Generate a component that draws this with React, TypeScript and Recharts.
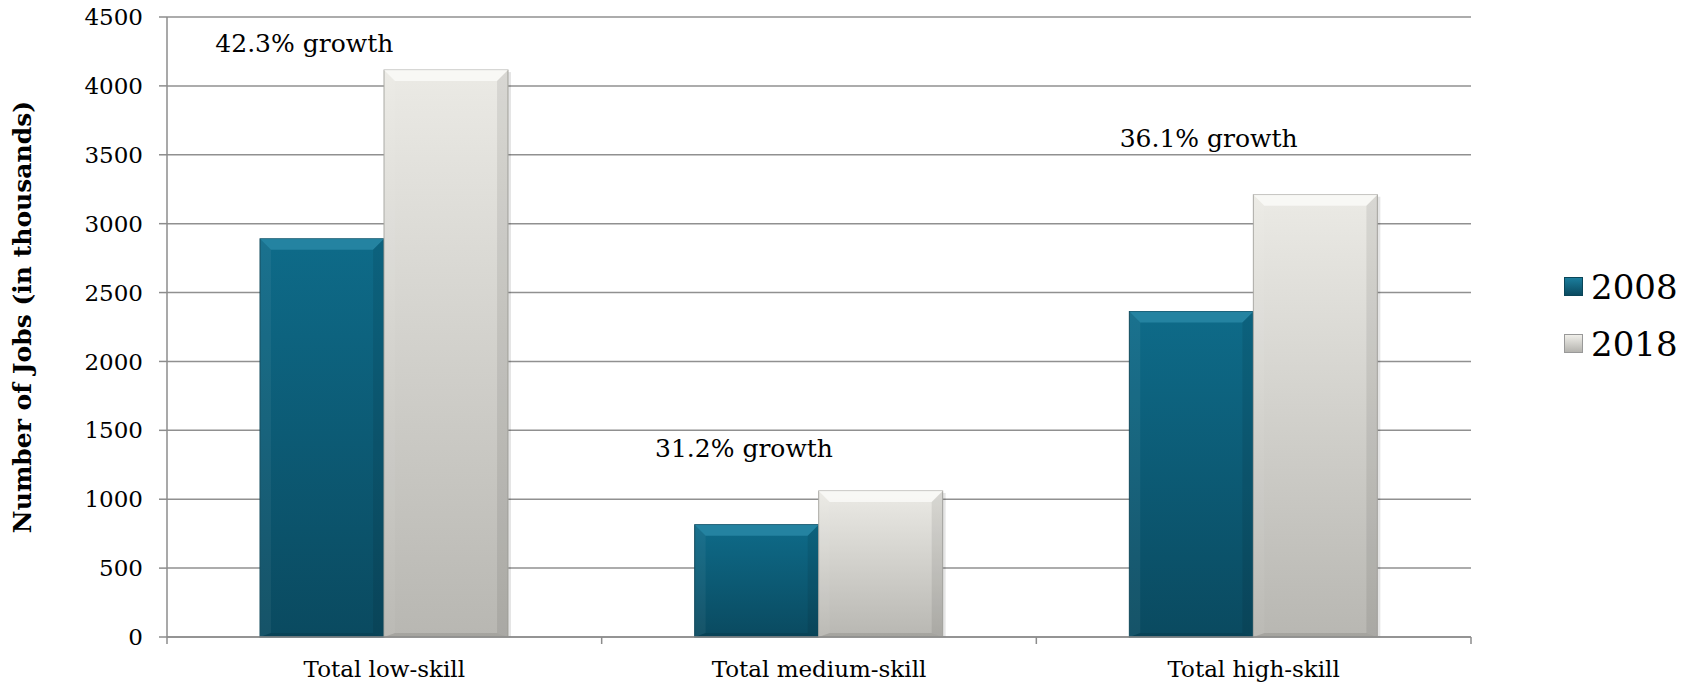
import React from "react";
import { BarChart, Bar, XAxis, YAxis, CartesianGrid, Legend, ReferenceDot } from "recharts";

// Jobs by skill level, thousands
const categories = ["Total low-skill", "Total medium-skill", "Total high-skill"];
const jobs2008 = [2890, 815, 2362];
const jobs2018 = [4115, 1060, 3210];
const yTicks = [0, 500, 1000, 1500, 2000, 2500, 3000, 3500, 4000, 4500];
const growthText = ["42.3% growth", "31.2% growth", "36.1% growth"];
const growthAnchorY = [4310, 1365, 3620];

const data = categories.map((name, i) => ({ name, y2008: jobs2008[i], y2018: jobs2018[i] }));

const FONT = "'DejaVu Serif', 'Liberation Serif', serif";
const W = 1696;
const H = 684;
const PLOT_LEFT = 167;
const PLOT_RIGHT = 1471;
const PLOT_BOTTOM = 637;
const BAND = (PLOT_RIGHT - PLOT_LEFT) / categories.length;
const growthDx = [-80, -75, -45];

if (typeof document !== "undefined") document.body.style.margin = "0";

const tones: Record<string, { grad: string; edge: string; top: string }> = {
    y2008: { grad: "url(#g2008)", edge: "#0a4558", top: "#2b8aa7" },
    y2018: { grad: "url(#g2018)", edge: "#a9a8a3", top: "#fbfbf9" },
};

const BevelBar = (props: any) => {
    const { x, y, width, height, dataKey } = props;
    if (!height || height <= 0) return null;
    const t = tones[dataKey];
    const b = Math.min(11, width / 6, height / 2);
    return (
        <g>
            <rect x={x + 3} y={y + 2} width={width} height={height - 2} fill="#000" opacity={0.1} />
            <rect x={x} y={y} width={width} height={height} fill={t.grad} stroke={t.edge} strokeWidth={1} />
            <polygon
                points={`${x},${y} ${x + width},${y} ${x + width - b},${y + b} ${x + b},${y + b}`}
                fill={t.top}
                opacity={0.8}
            />
            <polygon
                points={`${x},${y} ${x + b},${y + b} ${x + b},${y + height - 4} ${x},${y + height}`}
                fill="#fff"
                opacity={0.05}
            />
            <polygon
                points={`${x + width},${y} ${x + width - b},${y + b} ${x + width - b},${y + height - 4} ${x + width},${y + height}`}
                fill="#000"
                opacity={0.08}
            />
            <polygon
                points={`${x},${y + height} ${x + b},${y + height - 4} ${x + width - b},${y + height - 4} ${x + width},${y + height}`}
                fill="#000"
                opacity={0.1}
            />
        </g>
    );
};

const CategoryTick = (props: any) => {
    const { x, payload, index } = props;
    const half = BAND / 2;
    return (
        <g>
            <line x1={x - half} y1={PLOT_BOTTOM} x2={x - half} y2={PLOT_BOTTOM + 7} stroke="#8c8c8c" strokeWidth={1.5} />
            {index === categories.length - 1 && (
                <line x1={x + half} y1={PLOT_BOTTOM} x2={x + half} y2={PLOT_BOTTOM + 7} stroke="#8c8c8c" strokeWidth={1.5} />
            )}
            <text x={x} y={PLOT_BOTTOM + 40} textAnchor="middle" fontFamily={FONT} fontSize={23} fill="#000">
                {payload.value}
            </text>
        </g>
    );
};

const YTitle = (props: any) => {
    const { viewBox } = props;
    const cx = 22;
    const cy = viewBox.y + viewBox.height / 2 - 10;
    return (
        <text
            x={cx}
            y={cy}
            transform={`rotate(-90, ${cx}, ${cy})`}
            textAnchor="middle"
            dominantBaseline="central"
            fontFamily={FONT}
            fontWeight="bold"
            fontSize={25}
            fill="#000"
        >
            Number of Jobs (in thousands)
        </text>
    );
};

const legendItems = [
    { label: "2008", bg: "linear-gradient(#1b7d9c, #0a4a60)", border: "#0a4558" },
    { label: "2018", bg: "linear-gradient(#f0efea, #b4b3ae)", border: "#999" },
];

const LegendBox = () => (
    <div style={{ fontFamily: FONT }}>
        {legendItems.map((it) => (
            <div key={it.label} style={{ display: "flex", alignItems: "center", height: 57 }}>
                <span
                    style={{
                        width: 19,
                        height: 19,
                        background: it.bg,
                        border: `1px solid ${it.border}`,
                        marginRight: 8,
                        boxSizing: "border-box",
                    }}
                />
                <span style={{ fontSize: 34, color: "#000" }}>{it.label}</span>
            </div>
        ))}
    </div>
);

const GrowthLabel = (props: any) => {
    const { viewBox, value, dx } = props;
    const cx = viewBox.x + viewBox.width / 2 + dx;
    const cy = viewBox.y + viewBox.height / 2;
    return (
        <text x={cx} y={cy} textAnchor="middle" dominantBaseline="central" fontFamily={FONT} fontSize={25} fill="#000">
            {value}
        </text>
    );
};

export default function App() {
    return (
        <div style={{ width: W, height: H, background: "#fff", position: "relative" }}>
            <BarChart
                width={W}
                height={H}
                data={data}
                margin={{ top: 17, right: W - PLOT_RIGHT, left: 0, bottom: 7 }}
                barCategoryGap="21.4%"
                barGap={0}
            >
                <defs>
                    <linearGradient id="g2008" x1="0" y1="0" x2="0" y2="1">
                        <stop offset="0%" stopColor="#0e6b89" />
                        <stop offset="100%" stopColor="#0a4a60" />
                    </linearGradient>
                    <linearGradient id="g2018" x1="0" y1="0" x2="0" y2="1">
                        <stop offset="0%" stopColor="#ebeae5" />
                        <stop offset="100%" stopColor="#b8b7b2" />
                    </linearGradient>
                </defs>
                <CartesianGrid vertical={false} stroke="#909090" strokeWidth={1.5} />
                <XAxis
                    dataKey="name"
                    height={40}
                    axisLine={{ stroke: "#8c8c8c", strokeWidth: 1.5 }}
                    tickLine={false}
                    tick={<CategoryTick />}
                    interval={0}
                />
                <YAxis
                    width={PLOT_LEFT}
                    domain={[0, 4500]}
                    ticks={yTicks}
                    interval={0}
                    axisLine={{ stroke: "#8c8c8c", strokeWidth: 1.5 }}
                    tickLine={{ stroke: "#8c8c8c", strokeWidth: 1.5 }}
                    tickSize={8}
                    tickMargin={16}
                    tick={{ fontFamily: FONT, fontSize: 23, fill: "#000" }}
                    label={{ content: <YTitle /> }}
                />
                <Legend
                    layout="vertical"
                    align="center"
                    verticalAlign="middle"
                    content={<LegendBox />}
                    wrapperStyle={{ left: 1564, top: 258, width: 130 }}
                />
                <Bar dataKey="y2008" name="2008" isAnimationActive={false} shape={<BevelBar />} />
                <Bar dataKey="y2018" name="2018" isAnimationActive={false} shape={<BevelBar />} />
                {categories.map((c, i) => (
                    <ReferenceDot
                        key={c}
                        x={c}
                        y={growthAnchorY[i]}
                        r={0}
                        fill="none"
                        stroke="none"
                        ifOverflow="visible"
                        label={<GrowthLabel value={growthText[i]} dx={growthDx[i]} />}
                    />
                ))}
            </BarChart>
        </div>
    );
}
